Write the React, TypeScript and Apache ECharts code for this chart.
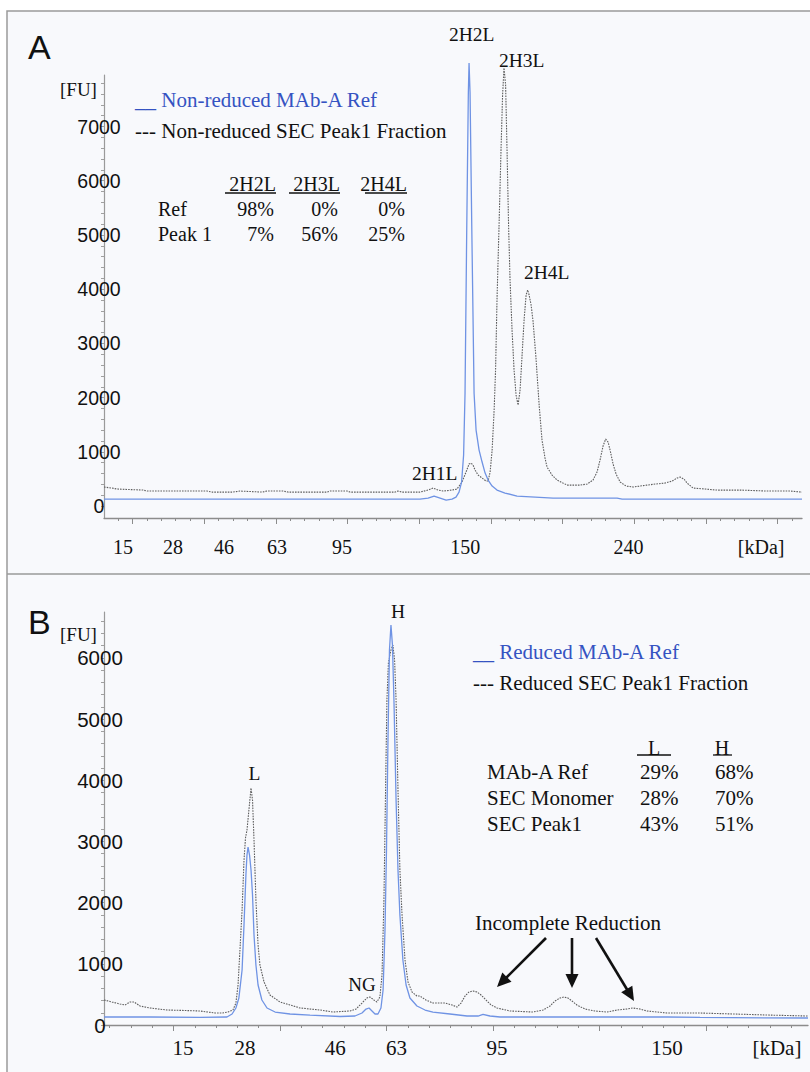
import React, { useEffect, useRef } from "react";
import * as echarts from "echarts";

// ---------- Panel A data (x in migration-time units, y in FU) ----------
const nonReducedRef: [number, number][] = [
  [0, 129], [6.7, 129], [13.68, 129], [22.05, 129], [22.61, 148], [23.03, 185], [23.45, 148],
  [23.87, 111], [24.28, 129], [24.56, 166], [24.77, 258], [24.95, 443], [25.09, 941],
  [25.19, 2085], [25.31, 5148], [25.42, 7620], [25.47, 8173], [25.54, 7620], [25.66, 5148],
  [25.82, 2085], [25.96, 1402], [26.17, 1033], [26.38, 812], [26.59, 609], [26.8, 480],
  [27.08, 369], [27.42, 295], [27.98, 240], [28.82, 185], [30.08, 166], [31.33, 148],
  [33.92, 148], [35.8, 148], [36.15, 129], [41.59, 129], [48.7, 129],
];

const nonReducedPeak1: [number, number][] = [
  [0, 351], [0.56, 332], [0.91, 314], [2.72, 295], [3.0, 277], [7.19, 277], [7.54, 258],
  [9.0, 258], [9.49, 277], [11.03, 258], [11.37, 277], [12.49, 277], [12.84, 258],
  [15.56, 258], [15.77, 277], [16.96, 277], [17.17, 258], [20.31, 258], [20.52, 277],
  [20.8, 258], [22.05, 258], [22.61, 295], [22.96, 332], [23.31, 295], [23.66, 277],
  [24.28, 295], [24.63, 314], [24.98, 443], [25.26, 627], [25.47, 775], [25.61, 793],
  [25.75, 756], [25.89, 664], [26.1, 572], [26.38, 517], [26.66, 461], [26.8, 461],
  [26.94, 627], [27.08, 1033], [27.22, 1771], [27.32, 2509], [27.42, 3800], [27.56, 5148],
  [27.7, 6568], [27.81, 7583], [27.91, 8081], [28.02, 7767], [28.12, 6568], [28.23, 5148],
  [28.33, 4170], [28.47, 3247], [28.61, 2509], [28.75, 2048], [28.89, 1863], [29.03, 2140],
  [29.17, 2786], [29.31, 3432], [29.45, 3893], [29.56, 3985], [29.66, 3893], [29.8, 3708],
  [29.94, 3395], [30.15, 2694], [30.36, 1863], [30.56, 1218], [30.77, 886], [30.91, 720],
  [31.26, 572], [31.61, 480], [32.31, 387], [33.22, 387], [33.71, 406], [34.12, 480],
  [34.4, 627], [34.61, 849], [34.82, 1107], [35.0, 1236], [35.17, 1181], [35.31, 1033],
  [35.52, 775], [35.73, 590], [36.01, 443], [36.43, 369], [36.92, 351], [37.89, 387],
  [38.45, 406], [39.15, 424], [39.64, 461], [39.99, 517], [40.2, 535], [40.47, 498],
  [40.68, 424], [41.1, 332], [41.94, 314], [42.78, 295], [44.38, 295], [46.27, 277],
  [47.87, 277], [48.7, 258],
];

// ---------- Panel B data ----------
const reducedRef: [number, number][] = [
  [0.74, 131], [2.9, 131], [5.24, 123], [6.51, 131], [6.75, 180], [6.93, 278], [7.07, 441],
  [7.22, 899], [7.31, 1634], [7.4, 2451], [7.45, 2778], [7.5, 2908], [7.57, 2778],
  [7.64, 2533], [7.71, 2124], [7.78, 1471], [7.87, 980], [7.97, 654], [8.15, 409],
  [8.39, 278], [8.77, 212], [9.47, 180], [10.41, 163], [11.82, 139], [12.52, 147],
  [12.85, 196], [13.04, 261], [13.18, 278], [13.32, 229], [13.46, 180], [13.6, 180],
  [13.74, 278], [13.84, 572], [13.93, 1552], [14.0, 2860], [14.07, 4657], [14.14, 6128],
  [14.21, 6536], [14.28, 6209], [14.35, 5311], [14.45, 3677], [14.54, 2533], [14.63, 1797],
  [14.77, 1062], [14.92, 654], [15.1, 441], [15.43, 310], [15.81, 245], [16.18, 212],
  [16.98, 180], [17.78, 147], [18.3, 147], [18.53, 172], [18.86, 147], [19.33, 131],
  [24.02, 131], [27.17, 131], [28.72, 123], [33.79, 114],
];

const reducedPeak1: [number, number][] = [
  [0.74, 409], [1.11, 376], [1.49, 343], [1.72, 327], [1.96, 376], [2.15, 376], [2.43, 310],
  [2.9, 278], [3.69, 245], [4.54, 237], [5.24, 229], [5.95, 196], [6.28, 196], [6.56, 212],
  [6.79, 245], [6.93, 359], [7.03, 654], [7.12, 1226], [7.22, 1879], [7.31, 2696],
  [7.38, 3056], [7.45, 3186], [7.54, 3513], [7.64, 3873], [7.71, 3677], [7.78, 3023],
  [7.87, 2043], [7.97, 1307], [8.06, 980], [8.25, 703], [8.53, 490], [9.0, 376],
  [9.47, 327], [9.94, 278], [10.88, 245], [11.49, 212], [12.29, 229], [12.57, 261],
  [12.85, 359], [13.08, 441], [13.22, 458], [13.41, 409], [13.55, 376], [13.69, 458],
  [13.79, 817], [13.88, 2043], [13.95, 3677], [14.02, 5311], [14.09, 5915], [14.21, 6128],
  [14.3, 6209], [14.38, 5964], [14.45, 5311], [14.54, 3840], [14.63, 2533], [14.73, 1797],
  [14.87, 1062], [15.01, 703], [15.2, 539], [15.43, 474], [15.57, 474], [15.85, 409],
  [16.18, 359], [16.75, 359], [17.08, 327], [17.31, 294], [17.5, 359], [17.69, 474],
  [17.87, 539], [18.06, 556], [18.25, 539], [18.44, 490], [18.67, 409], [18.91, 327],
  [19.19, 278], [19.8, 229], [20.88, 212], [21.35, 245], [21.68, 310], [21.91, 392],
  [22.15, 441], [22.33, 458], [22.52, 441], [22.71, 392], [22.94, 327], [23.32, 261],
  [23.79, 229], [24.35, 212], [24.82, 245], [25.29, 261], [25.57, 278], [25.9, 261],
  [26.23, 229], [27.17, 196], [28.72, 196], [30.27, 180], [31.86, 163], [33.79, 147],
];

// ---------- Axis labels (size ladder, kDa) ----------
const kdaLabelsA = ["15", "28", "46", "63", "95", "150", "240", "[kDa]"];
const kdaPosA = [1.32, 4.81, 8.37, 12.07, 16.6, 25.2, 36.6, 45.85];
const kdaLabelsB = ["15", "28", "46", "63", "95", "150", "[kDa]"];
const kdaPosB = [4.45, 7.36, 11.6, 14.47, 19.19, 27.17, 32.33];

const yLabelsA = [0, 1000, 2000, 3000, 4000, 5000, 6000, 7000];
const yLabelsB = [0, 1000, 2000, 3000, 4000, 5000, 6000];

const minorTicksA = Array.from({ length: 48 }, (_, i) => i + 1);
const majorTicksA = [2, 7, 12, 17, 22, 27, 32, 37, 42, 47];
const minorTicksB = Array.from({ length: 33 }, (_, i) => i + 1);
const majorTicksB = [4, 9, 14, 19, 24, 29];
const yTicksA = Array.from({ length: 40 }, (_, i) => i * 200);
const yTicksB = Array.from({ length: 34 }, (_, i) => i * 200);

// ---------- Tables ----------
const tableAHeaders = ["2H2L", "2H3L", "2H4L"];
const tableARows = ["Ref", "Peak 1"];
const tableAValues = [["98%", "0%", "0%"], ["7%", "56%", "25%"]];
const tableBHeaders = ["L", "H"];
const tableBRows = ["MAb-A Ref", "SEC Monomer", "SEC Peak1"];
const tableBValues = [["29%", "68%"], ["28%", "70%"], ["43%", "51%"]];

const SERIF = "'Liberation Serif', 'Times New Roman', Times, serif";
const SANS = "'Liberation Sans', Arial, Helvetica, sans-serif";
const BLUE_LINE = "#6f93e4";
const BLUE_TEXT = "#3553c2";
const GREY_LINE = "#5e5e5e";

function txt(text: string, x: number, y: number, size: number, opts: any = {}) {
  return {
    type: "text",
    x,
    y,
    z: 20,
    style: {
      text,
      fontSize: size,
      fontFamily: opts.family || SERIF,
      fill: opts.fill || "#111",
      align: opts.align || "left",
      verticalAlign: "middle",
    },
  };
}

function hline(x1: number, x2: number, y: number, color = "#111", w = 1.3) {
  return { type: "line", z: 20, shape: { x1, y1: y, x2, y2: y }, style: { stroke: color, lineWidth: w } };
}

function arrow(x1: number, y1: number, x2: number, y2: number) {
  const dx = x2 - x1;
  const dy = y2 - y1;
  const L = Math.hypot(dx, dy);
  const ux = dx / L;
  const uy = dy / L;
  const hl = 14;
  const hw = 6.5;
  const bx = x2 - ux * hl;
  const by = y2 - uy * hl;
  return [
    { type: "line", z: 20, shape: { x1, y1, x2: bx + ux * 2, y2: by + uy * 2 }, style: { stroke: "#111", lineWidth: 2.6 } },
    {
      type: "polygon",
      z: 20,
      shape: { points: [[x2, y2], [bx - uy * hw, by + ux * hw], [bx + uy * hw, by - ux * hw]] },
      style: { fill: "#111" },
    },
  ];
}

function labelFormatter(labels: string[], pos: number[]) {
  return (v: number) => {
    const i = pos.findIndex((p) => Math.abs(p - v) < 1e-6);
    return i >= 0 ? labels[i] : "";
  };
}

function buildOption() {
  const axisGrey = "#8c8c8c";
  const graphics: any[] = [
    {
      type: "rect",
      z: -10,
      shape: { x: 7, y: 11, width: 820, height: 1080 },
      style: { fill: "#f8f9fc", stroke: "#9a9a9a", lineWidth: 1.5 },
    },
    { type: "line", z: -5, shape: { x1: 7, y1: 574, x2: 812, y2: 574 }, style: { stroke: "#9a9a9a", lineWidth: 1.5 } },
    // Panel letters
    txt("A", 28, 46.5, 34, { family: SANS }),
    txt("B", 28, 622, 34, { family: SANS }),
    txt("[FU]", 60, 89, 19),
    txt("[FU]", 60, 634, 19),
    // Panel A legend
    txt("__ Non-reduced MAb-A Ref", 135, 100, 21, { fill: BLUE_TEXT }),
    txt("--- Non-reduced SEC Peak1 Fraction", 135, 131, 21),
    // Panel A peak labels
    txt("2H2L", 449, 34, 19.5),
    txt("2H3L", 499, 60, 19.5),
    txt("2H4L", 524, 272, 19.5),
    txt("2H1L", 412, 473, 19.5),
    // Panel B legend
    txt("__ Reduced MAb-A Ref", 473, 652, 21, { fill: BLUE_TEXT }),
    txt("--- Reduced SEC Peak1 Fraction", 473, 683, 21),
    // Panel B peak labels
    txt("H", 398, 611, 19.5, { align: "center" }),
    txt("L", 254.5, 773, 19.5, { align: "center" }),
    txt("NG", 362, 984, 19, { align: "center" }),
    txt("Incomplete Reduction", 475, 923, 21),
    ...arrow(546, 938, 497, 987),
    ...arrow(572, 938, 572, 988),
    ...arrow(596, 938, 634, 1001),
  ];

  // Table A
  const colRightA = [276, 340, 407];
  const colLeftA = [225, 289, 365];
  tableAHeaders.forEach((h, j) => {
    graphics.push(txt(h, colRightA[j], 184, 20, { align: "right" }));
    graphics.push(hline(colLeftA[j], colRightA[j], 193));
  });
  const rowYA = [209, 234];
  tableARows.forEach((r, i) => {
    graphics.push(txt(r, 158, rowYA[i], 20));
    tableAValues[i].forEach((v, j) => graphics.push(txt(v, colRightA[j] - 2, rowYA[i], 20, { align: "right" })));
  });

  // Table B
  const headCenterB = [654, 722];
  const ulB = [[637, 671], [713, 732]];
  tableBHeaders.forEach((h, j) => {
    graphics.push(txt(h, headCenterB[j], 748, 20, { align: "center" }));
    graphics.push(hline(ulB[j][0], ulB[j][1], 755));
  });
  const rowYB = [772, 798, 824];
  const valLeftB = [640, 715];
  tableBRows.forEach((r, i) => {
    graphics.push(txt(r, 487, rowYB[i], 21));
    tableBValues[i].forEach((v, j) => graphics.push(txt(v, valLeftB[j], rowYB[i], 21)));
  });

  const yAxisCommon = (min: number, max: number, labels: number[], ticks: number[], margin: number, size: number, gridIndex: number) => ({
    type: "value",
    gridIndex,
    min,
    max,
    axisLine: { show: true, lineStyle: { color: "#9a9a9a", width: 1.2 } },
    axisTick: { show: true, customValues: ticks, length: 3, lineStyle: { color: "#a0a0a0" } },
    axisLabel: {
      customValues: labels,
      formatter: (v: number) => String(Math.round(v)),
      margin,
      align: "center",
      fontFamily: SANS,
      fontSize: size,
      color: "#111",
    },
    splitLine: { show: false },
  });

  const xMinorAxis = (min: number, max: number, ticks: number[], gridIndex: number) => ({
    type: "value",
    gridIndex,
    position: "bottom",
    min,
    max,
    axisLine: { show: true, onZero: false, lineStyle: { color: axisGrey, width: 1.3 } },
    axisTick: { show: true, customValues: ticks, length: 3, lineStyle: { color: axisGrey } },
    axisLabel: { show: false },
    splitLine: { show: false },
  });

  const xMajorAxis = (min: number, max: number, ticks: number[], labels: string[], pos: number[], margin: number, size: number, gridIndex: number) => ({
    type: "value",
    gridIndex,
    position: "bottom",
    offset: 0,
    min,
    max,
    axisLine: { show: false, onZero: false },
    axisTick: { show: true, customValues: ticks, length: 6, lineStyle: { color: axisGrey } },
    axisLabel: {
      customValues: pos,
      formatter: labelFormatter(labels, pos),
      margin,
      fontFamily: SERIF,
      fontSize: size,
      color: "#111",
    },
    splitLine: { show: false },
  });

  return {
    animation: false,
    backgroundColor: "#ffffff",
    grid: [
      { left: 104, top: 75, width: 698, height: 443, outerBoundsMode: "none" },
      { left: 104, top: 612, width: 704, height: 413, outerBoundsMode: "none" },
    ],
    xAxis: [
      xMinorAxis(0, 48.7, minorTicksA, 0),
      xMajorAxis(0, 48.7, majorTicksA, kdaLabelsA, kdaPosA, 19, 20, 0),
      xMinorAxis(0.737, 33.79, minorTicksB, 1),
      xMajorAxis(0.737, 33.79, majorTicksB, kdaLabelsB, kdaPosB, 12, 21, 1),
    ],
    yAxis: [
      yAxisCommon(-220, 7950, yLabelsA, yTicksA, 5, 19.5, 0),
      yAxisCommon(0, 6750, yLabelsB, yTicksB, 4, 20.5, 1),
    ],
    series: [
      {
        name: "Non-reduced SEC Peak1 Fraction",
        type: "line",
        xAxisIndex: 0,
        yAxisIndex: 0,
        data: nonReducedPeak1,
        showSymbol: false,
        clip: false,
        lineStyle: { color: GREY_LINE, width: 1.1, type: [1.6, 1.1] },
        z: 3,
      },
      {
        name: "Non-reduced MAb-A Ref",
        type: "line",
        xAxisIndex: 0,
        yAxisIndex: 0,
        data: nonReducedRef,
        showSymbol: false,
        clip: false,
        lineStyle: { color: BLUE_LINE, width: 1.3 },
        z: 4,
      },
      {
        name: "Reduced SEC Peak1 Fraction",
        type: "line",
        xAxisIndex: 2,
        yAxisIndex: 1,
        data: reducedPeak1,
        showSymbol: false,
        clip: false,
        lineStyle: { color: GREY_LINE, width: 1.1, type: [1.6, 1.1] },
        z: 3,
      },
      {
        name: "Reduced MAb-A Ref",
        type: "line",
        xAxisIndex: 2,
        yAxisIndex: 1,
        data: reducedRef,
        showSymbol: false,
        clip: false,
        lineStyle: { color: BLUE_LINE, width: 1.3 },
        z: 4,
      },
    ],
    graphic: graphics,
  };
}

export default function App() {
  const ref = useRef<HTMLDivElement>(null);
  useEffect(() => {
    document.body.style.margin = "0";
    const chart = echarts.init(ref.current!, null, { renderer: "svg" });
    chart.setOption(buildOption() as any);
    return () => chart.dispose();
  }, []);
  return (
    <div
      ref={ref}
      style={{ position: "absolute", left: 0, top: 0, width: 810, height: 1072 }}
    />
  );
}
